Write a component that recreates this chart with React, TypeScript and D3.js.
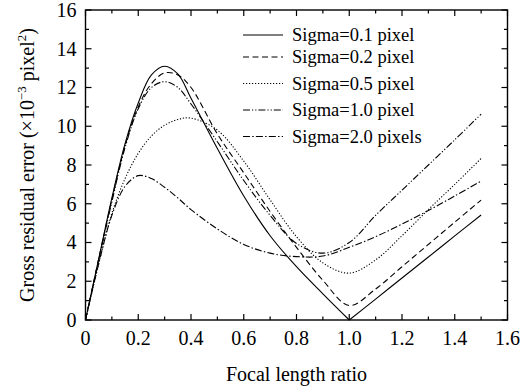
import React, { useEffect, useRef } from 'react';
import * as d3 from 'd3';

// focal length ratio samples (x)
const focalRatio = [0, 0.05, 0.1, 0.15, 0.2, 0.25, 0.3, 0.35, 0.4, 0.5, 0.6, 0.7, 0.8, 0.9, 1.0, 1.1, 1.2, 1.3, 1.4, 1.5];

// gross residual error, x10^-3 pixel^2
const sigma01 = [0, 3.15, 6.3, 9.1, 11.2, 12.65, 13.1, 12.7, 11.45, 8.85, 6.4, 4.35, 2.75, 1.35, 0, 1.08, 2.17, 3.25, 4.34, 5.42];
const sigma02 = [0, 3.15, 6.2, 9.0, 11.0, 12.2, 12.75, 12.65, 12.0, 9.6, 7.6, 5.6, 3.75, 2.05, 0.75, 1.6, 2.75, 3.9, 5.05, 6.19];
const sigma05 = [0, 2.9, 5.5, 7.3, 8.6, 9.5, 10.05, 10.35, 10.42, 9.8, 8.2, 6.2, 4.3, 2.95, 2.42, 3.1, 4.35, 5.7, 7.0, 8.34];
const sigma10 = [0, 3.1, 6.1, 8.9, 10.9, 12.0, 12.3, 12.0, 11.15, 9.2, 7.2, 5.4, 3.95, 3.45, 4.0, 5.4, 6.7, 8.0, 9.3, 10.63];
const sigma20 = [0, 2.9, 5.4, 6.9, 7.45, 7.3, 6.85, 6.3, 5.7, 4.7, 3.9, 3.45, 3.27, 3.3, 3.75, 4.3, 4.95, 5.65, 6.4, 7.17];

const seriesNames = ['Sigma=0.1 pixel', 'Sigma=0.2 pixel', 'Sigma=0.5 pixel', 'Sigma=1.0 pixel', 'Sigma=2.0 pixels'];
const seriesValues = [sigma01, sigma02, sigma05, sigma10, sigma20];

const xTicks = [0, 0.2, 0.4, 0.6, 0.8, 1.0, 1.2, 1.4, 1.6];
const xTickLabels = ['0', '0.2', '0.4', '0.6', '0.8', '1.0', '1.2', '1.4', '1.6'];
const yTicks = [0, 2, 4, 6, 8, 10, 12, 14, 16];

// line styles per series
const dashes = [null, '6,3.5', '1.2,1.8', '7,2,1.2,2,1.2,2', '7,2.2,1.5,2.2'];
const legendRows = [0, 22, 48.5, 75, 101.5];

const W = 527;
const H = 387;
const FONT = "'Liberation Serif', Tinos, 'Times New Roman', 'DejaVu Serif', serif";

const App = () => {
  const svgRef = useRef<SVGSVGElement>(null);

  useEffect(() => {
    const svg = d3.select(svgRef.current);
    svg.selectAll('*').remove();

    const left = 85.5, right = 507.5, top = 10, bottom = 320;

    const x = d3.scaleLinear().domain([0, 1.6]).range([left, right]);
    const y = d3.scaleLinear().domain([0, 16]).range([bottom, top]);

    const g = svg.append('g').style('font-family', FONT);

    // ticks on all four sides, pointing inward
    const xMinor = d3.range(0, 1.61, 0.1);
    const yMinor = d3.range(0, 16.1, 1);
    const tickLine = (x1, y1, x2, y2) =>
      g.append('line').attr('x1', x1).attr('y1', y1).attr('x2', x2).attr('y2', y2)
        .attr('stroke', '#000').attr('stroke-width', 1.2);

    xMinor.forEach((v, i) => {
      const len = i % 2 === 0 ? 6 : 3.5;
      tickLine(x(v), bottom, x(v), bottom - len);
      tickLine(x(v), top, x(v), top + len);
    });
    yMinor.forEach((v, i) => {
      const len = i % 2 === 0 ? 6 : 3.5;
      tickLine(left, y(v), left + len, y(v));
      tickLine(right, y(v), right - len, y(v));
    });

    g.append('rect')
      .attr('x', left).attr('y', top)
      .attr('width', right - left).attr('height', bottom - top)
      .attr('fill', 'none').attr('stroke', '#000').attr('stroke-width', 1.4);

    // tick labels
    g.selectAll('.xlabel')
      .data(xTicks)
      .enter().append('text')
      .attr('x', d => x(d))
      .attr('y', bottom + 25)
      .attr('text-anchor', 'middle')
      .style('font-size', '20px')
      .text((d, i) => xTickLabels[i]);

    g.selectAll('.ylabel')
      .data(yTicks)
      .enter().append('text')
      .attr('x', left - 9)
      .attr('y', d => y(d))
      .attr('dy', '0.34em')
      .attr('text-anchor', 'end')
      .style('font-size', '20px')
      .text(d => d);

    // curves
    const line = d3.line<number>()
      .x((d, i) => x(focalRatio[i]))
      .y(d => y(d))
      .curve(d3.curveCatmullRom.alpha(0.5));

    const clip = svg.append('defs').append('clipPath').attr('id', 'plot-clip');
    clip.append('rect').attr('x', left).attr('y', top).attr('width', right - left).attr('height', bottom - top + 2);

    seriesValues.forEach((vals, s) => {
      // sigma 0.1 has a sharp V at ratio 1.0, draw it in two pieces
      const kink = s === 0 ? focalRatio.indexOf(1.0) : -1;
      const pieces = kink > 0
        ? [vals.map((v, i) => (i <= kink ? v : null)), vals.map((v, i) => (i >= kink ? v : null))]
        : [vals];
      pieces.forEach(p => {
        g.append('path')
          .datum(p)
          .attr('clip-path', 'url(#plot-clip)')
          .attr('fill', 'none')
          .attr('stroke', '#000')
          .attr('stroke-width', 1.1)
          .attr('stroke-dasharray', dashes[s])
          .attr('d', line.defined(d => d !== null)(p as number[]));
      });
    });

    // legend
    const legend = g.append('g').attr('transform', 'translate(243,35)');
    seriesNames.forEach((name, i) => {
      legend.append('line')
        .attr('x1', 0).attr('x2', 40)
        .attr('y1', legendRows[i]).attr('y2', legendRows[i])
        .attr('stroke', '#000').attr('stroke-width', 1.1)
        .attr('stroke-dasharray', dashes[i]);
      legend.append('text')
        .attr('x', 49).attr('y', legendRows[i])
        .attr('dy', '0.34em')
        .style('font-size', '18.5px')
        .text(name);
    });

    // axis titles
    g.append('text')
      .attr('x', (left + right) / 2)
      .attr('y', 381)
      .attr('text-anchor', 'middle')
      .style('font-size', '20px')
      .text('Focal length ratio');

    const yTitle = g.append('text')
      .attr('transform', `translate(34,${(top + bottom) / 2}) rotate(-90)`)
      .attr('text-anchor', 'middle')
      .style('font-size', '20px');
    yTitle.append('tspan').text('Gross residual error (×10');
    yTitle.append('tspan').style('font-size', '13px').attr('dy', -8).text('−3');
    yTitle.append('tspan').attr('dy', 8).text(' pixel');
    yTitle.append('tspan').style('font-size', '13px').attr('dy', -8).text('2');
    yTitle.append('tspan').attr('dy', 8).text(')');
  }, []);

  return (
    <div style={{ position: 'absolute', left: 0, top: 0 }}>
      <svg ref={svgRef} width={W} height={H} style={{ display: 'block', background: '#fff' }}></svg>
    </div>
  );
};

export default App;
